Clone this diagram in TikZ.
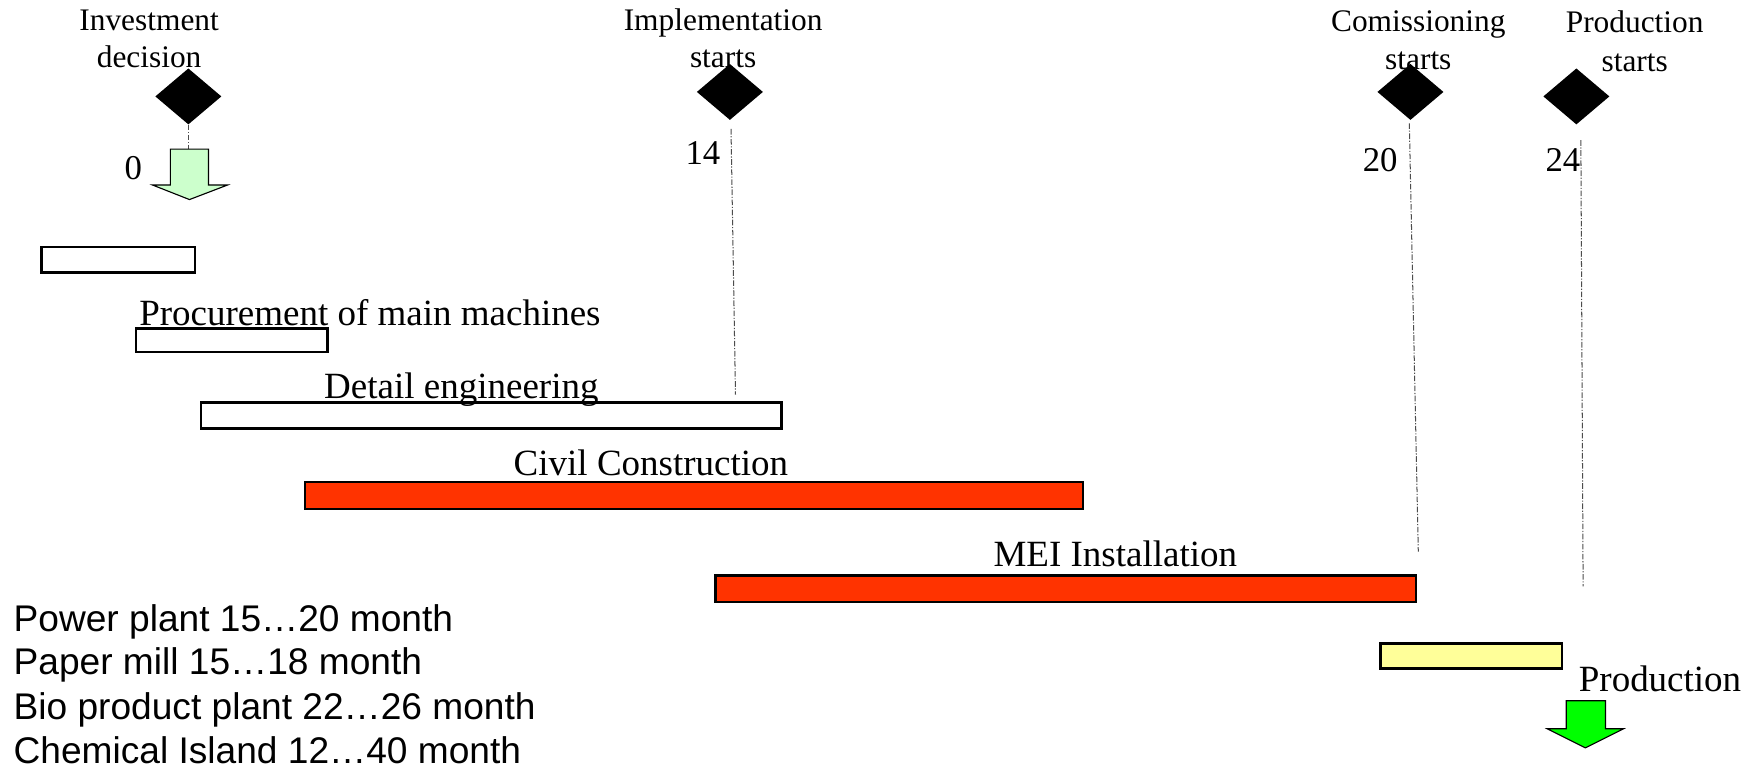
\documentclass[tikz,border=0pt]{standalone}
\usepackage{fontspec}
\setmainfont{Liberation Serif}
\newfontfamily\arialf{Liberation Sans}
\usetikzlibrary{shapes.geometric}
\definecolor{barred}{HTML}{FF3300}
\definecolor{baryellow}{HTML}{FFFF99}
\definecolor{lightgreen}{HTML}{CCFFCC}
\definecolor{brightgreen}{HTML}{00FF00}
\begin{document}
\begin{tikzpicture}[x=1pt,y=-1pt,
  toplabel/.style={font=\fontsize{28}{33}\selectfont, inner sep=0pt, anchor=base},
  barlabel/.style={font=\fontsize{33}{38}\selectfont, inner sep=0pt, anchor=base west},
  numlabel/.style={font=\fontsize{31}{36}\selectfont, inner sep=0pt, anchor=base},
  note/.style={font=\arialf\fontsize{33.1}{38}\selectfont, inner sep=0pt, anchor=base west},
  milestone/.style={diamond, fill=black, draw=none, inner sep=0pt, minimum width=59pt, minimum height=50pt},
  bar/.style={draw=black, line width=2.2pt, inner sep=0pt, anchor=north west},
  guide/.style={draw=black!70, line width=0.9pt, dash pattern=on 5pt off 1.5pt on 1pt off 1.5pt},
  arrowshape/.style={draw=black, line width=1pt, line join=miter}]
\useasboundingbox (0,0) rectangle (1568,685);
\fill[white] (0,0) rectangle (1568,685);

% milestone labels
\node[toplabel] (t1a) at (133,27) {Investment};
\node[toplabel] (t1b) at (133,60) {decision};
\node[toplabel] (t2a) at (645,27) {Implementation};
\node[toplabel] (t2b) at (645,60) {starts};
\node[toplabel] (t3a) at (1265,28) {Comissioning};
\node[toplabel] (t3b) at (1265,62) {starts};
\node[toplabel] (t4a) at (1458,29) {Production};
\node[toplabel] (t4b) at (1458,64) {starts};

% milestones
\node[milestone] (m1) at (168,86) {};
\node[milestone] (m2) at (651,82) {};
\node[milestone] (m3) at (1258,82) {};
\node[milestone] (m4) at (1406,86) {};

% month numbers
\node[numlabel] (n0) at (119,160) {0};
\node[numlabel] (n14) at (627,147) {14};
\node[numlabel] (n20) at (1231,153) {20};
\node[numlabel] (n24) at (1394,153) {24};

% guide lines
\coordinate (a1top) at (168,133);
\coordinate (g2a) at (652,115);
\coordinate (g2b) at (656,352);
\coordinate (g3a) at (1257,110);
\coordinate (g3b) at (1265,492);
\coordinate (g4a) at (1410,125);
\coordinate (g4b) at (1412,523);
\draw[guide] (m1.south) -- (a1top);
\draw[guide] (g2a) -- (g2b);
\draw[guide] (g3a) -- (g3b);
\draw[guide] (g4a) -- (g4b);

% decision arrow
\draw[arrowshape, fill=lightgreen] (152,133) -- (186,133) -- (186,165) -- (203,165) -- (169,178) -- (136,165) -- (152,165) -- cycle;

% bars
\node[bar, fill=white, minimum width=137pt, minimum height=23pt] (b1) at (36,219) {};
\node[bar, fill=white, minimum width=171pt, minimum height=21pt] (b2) at (120,292) {};
\node[bar, fill=white, minimum width=518pt, minimum height=23pt] (b3) at (178,358) {};
\node[bar, fill=barred, minimum width=694pt, minimum height=24pt] (b4) at (271,429) {};
\node[bar, fill=barred, minimum width=625pt, minimum height=24pt] (b5) at (637,512) {};
\node[bar, fill=baryellow, minimum width=162pt, minimum height=22pt] (b6) at (1230,573) {};

% bar labels
\node[barlabel] (l2) at (124,290) {Procurement of main machines};
\node[barlabel] (l3) at (289,355) {Detail engineering};
\node[barlabel] (l4) at (458,424) {Civil Construction};
\node[barlabel] (l5) at (886,505) {MEI Installation};
\node[barlabel] (l6) at (1408,617) {Production};

% production arrow
\draw[arrowshape, fill=brightgreen] (1397,625) -- (1432,625) -- (1432,650) -- (1448,650) -- (1414,667) -- (1380,650) -- (1397,650) -- cycle;

% notes
\node[note] (p1) at (12,563) {Power plant 15…20 month};
\node[note] (p2) at (12,602) {Paper mill 15…18 month};
\node[note] (p3) at (12,642) {Bio product plant 22…26 month};
\node[note] (p4) at (12,681) {Chemical Island 12…40 month};
\end{tikzpicture}
\end{document}
